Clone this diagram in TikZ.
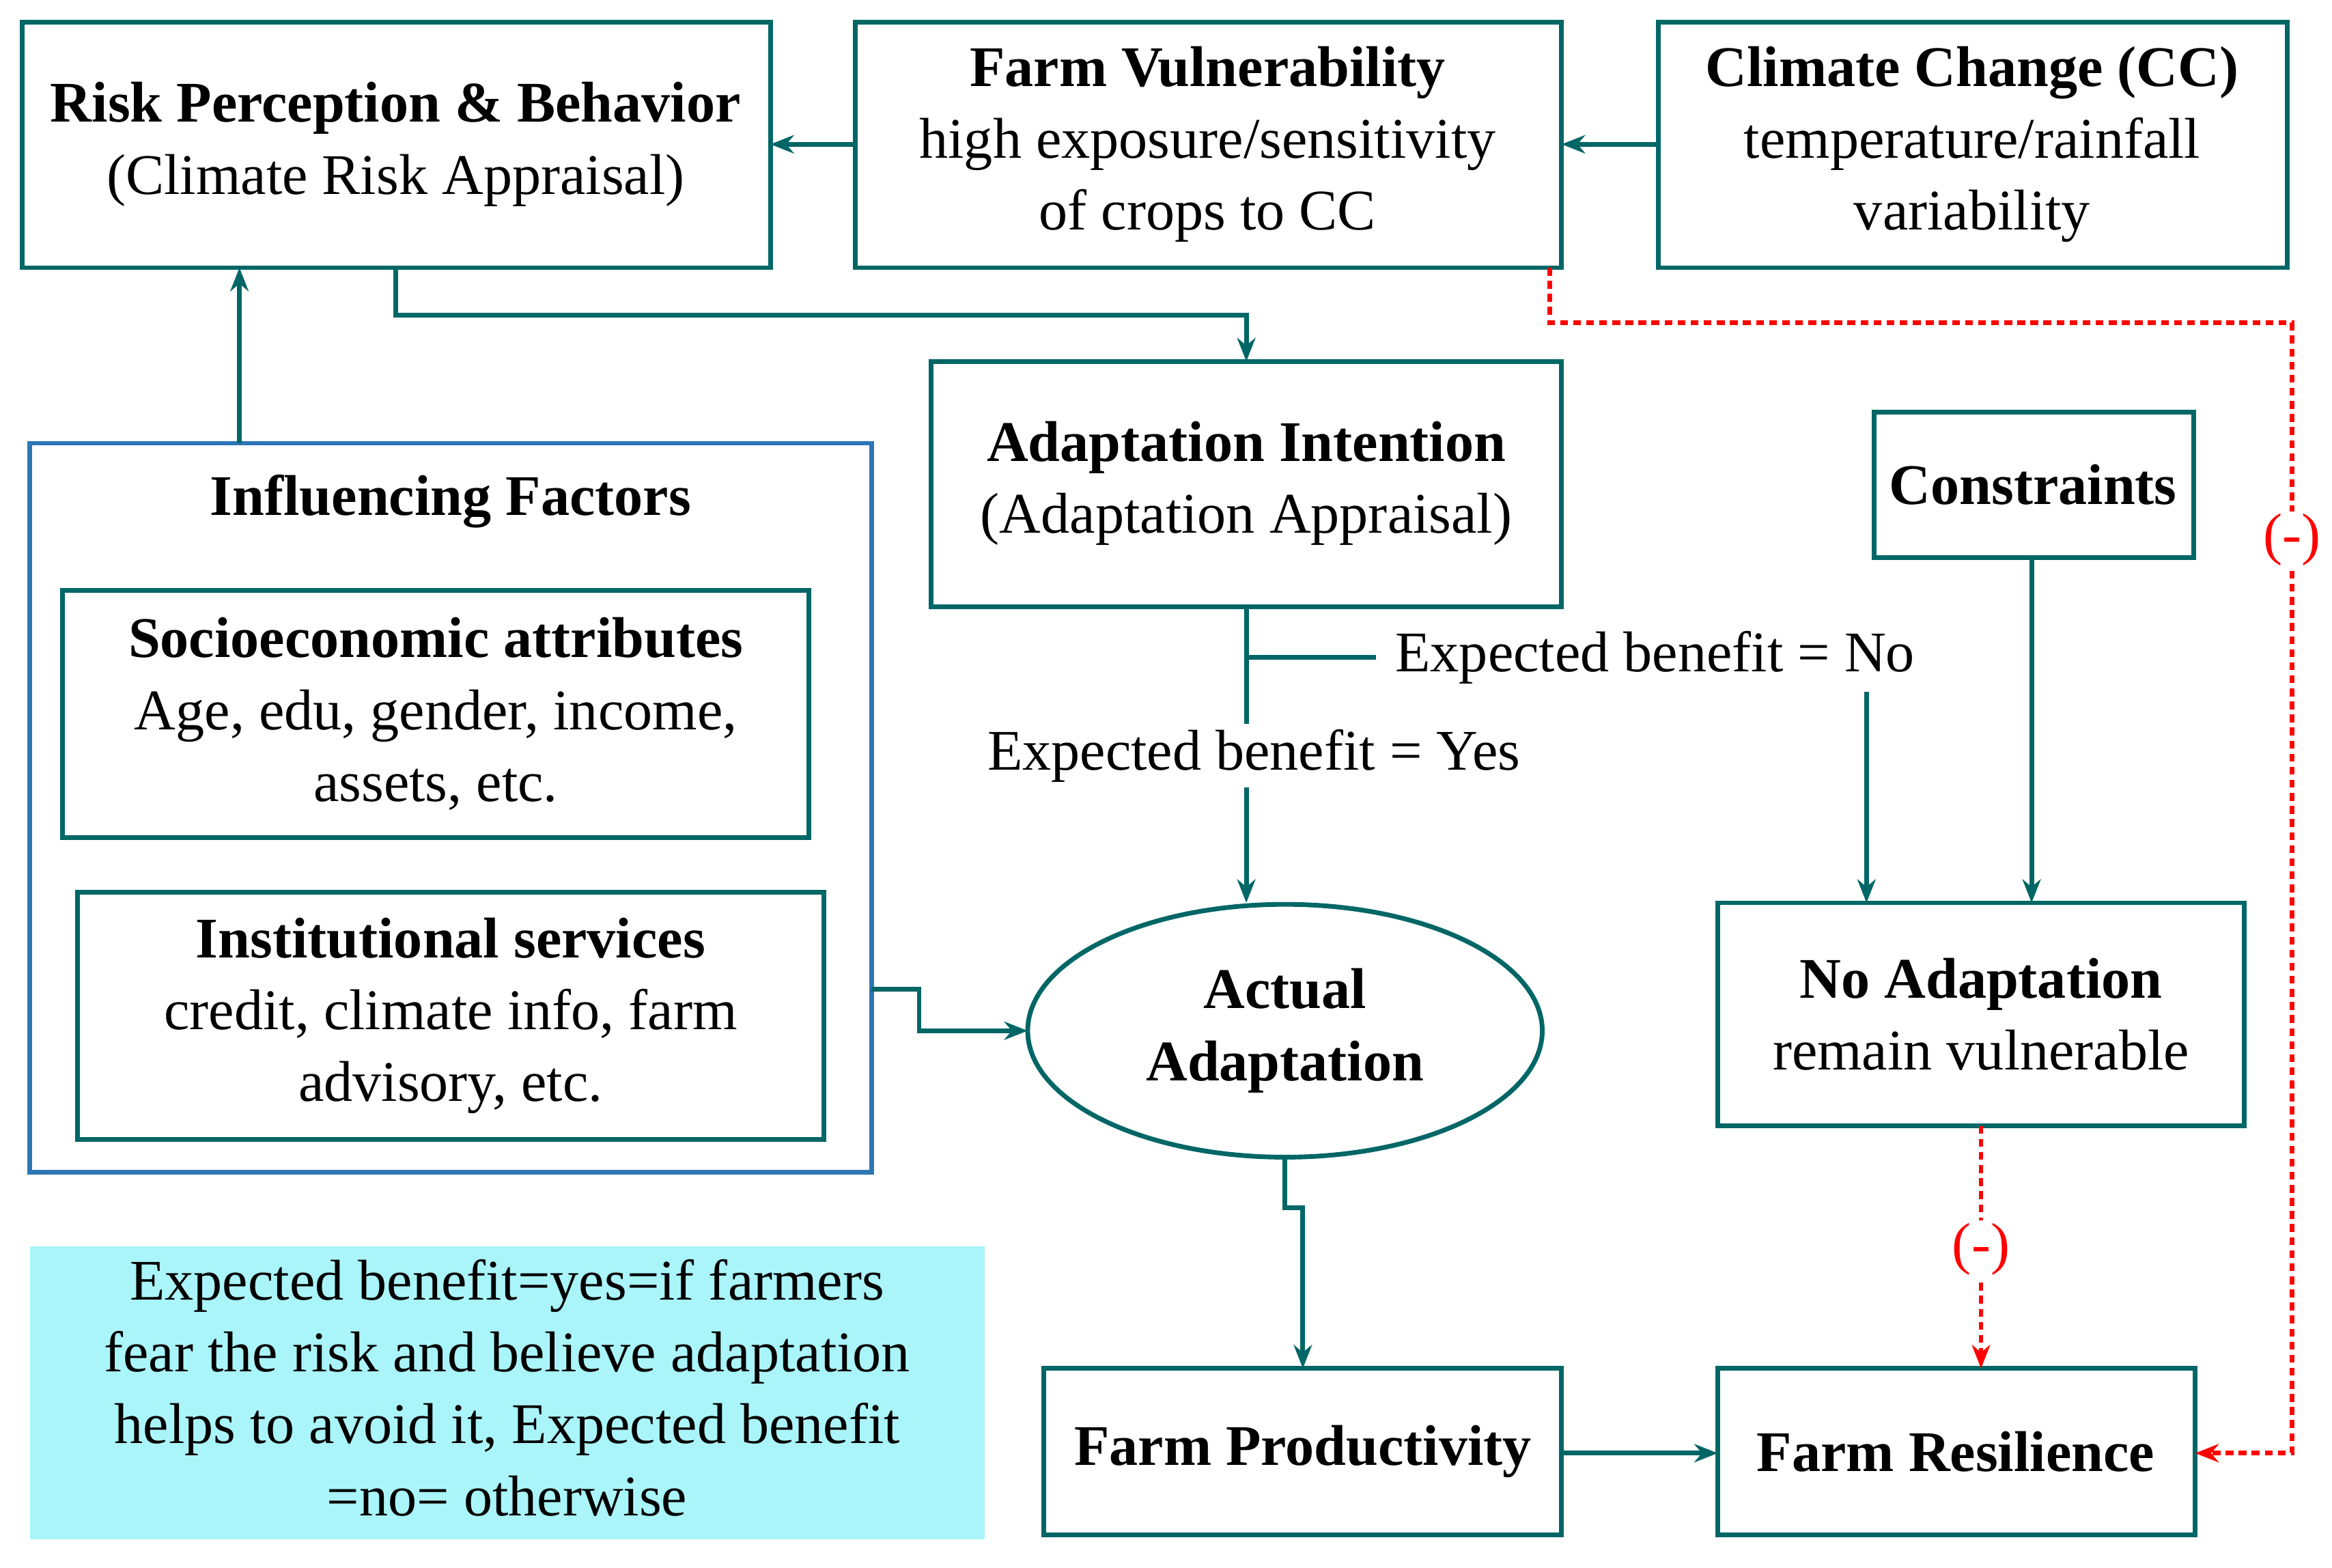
\documentclass[tikz,border=0pt]{standalone}
\usepackage{fontspec}
\setmainfont{Liberation Serif}
\usetikzlibrary{arrows.meta,shapes.geometric}
\definecolor{teal1}{RGB}{0,102,102}
\definecolor{blue1}{RGB}{46,117,182}
\definecolor{cyan1}{RGB}{170,245,250}
\begin{document}
\begin{tikzpicture}[x=0.02cm,y=-0.02cm,
  bx/.style={draw=teal1,line width=1.8pt},
  ar/.style={draw=teal1,line width=1.8pt,-{Stealth[length=9pt,width=7pt]}},
  rd/.style={draw=red,line width=1.8pt,densely dashed,-{Stealth[length=9pt,width=7pt]}},
  tx/.style={align=center,font=\fontsize{22}{27.5}\selectfont},
  lb/.style={font=\fontsize{22}{27.5}\selectfont}]
\useasboundingbox (0,0) rectangle (1568,1054);
% boxes
\draw[bx] (15,15) rectangle (518,180);
\node[tx] (risk) at (266,97) {\textbf{Risk Perception \& Behavior}\\(Climate Risk Appraisal)};
\draw[bx] (575,15) rectangle (1050,180);
\node[tx] (vuln) at (812,97) {\textbf{Farm Vulnerability}\\high exposure/sensitivity\\of crops to CC};
\draw[bx] (1115,15) rectangle (1538,180);
\node[tx] (cc) at (1326,97) {\textbf{Climate Change (CC)}\\temperature/rainfall\\variability};
\draw[bx] (626,243) rectangle (1050,408);
\node[tx] (ai) at (838,325) {\textbf{Adaptation Intention}\\(Adaptation Appraisal)};
\draw[bx] (1260,277) rectangle (1475,375);
\node[tx] (con) at (1367,326) {\textbf{Constraints}};
\draw[draw=blue1,line width=1.8pt] (20,298) rectangle (586,788);
\node[tx] (inf) at (303,337) {\textbf{Influencing Factors}};
\draw[bx] (42,397) rectangle (544,563);
\node[tx] (soc) at (293,480) {\textbf{Socioeconomic attributes}\\Age, edu, gender, income,\\assets, etc.};
\draw[bx] (52,600) rectangle (554,766);
\node[tx] (ins) at (303,683) {\textbf{Institutional services}\\credit, climate info, farm\\advisory, etc.};
\draw[bx] (864,693) ellipse [x radius=173,y radius=85];
\node[tx] (act) at (864,693) {\textbf{Actual}\\\textbf{Adaptation}};
\draw[bx] (1155,607) rectangle (1509,757);
\node[tx] (noa) at (1332,682) {\textbf{No Adaptation}\\remain vulnerable};
\draw[bx] (702,920) rectangle (1050,1032);
\node[tx] (fp) at (876,976) {\textbf{Farm Productivity}};
\draw[bx] (1155,920) rectangle (1476,1032);
\node[tx] (fr) at (1315,976) {\textbf{Farm Resilience}};
\fill[cyan1] (20,838) rectangle (662,1035);
\node[tx] (note) at (341,933) {Expected benefit=yes=if farmers\\fear the risk and believe adaptation\\helps to avoid it, Expected benefit\\=no= otherwise};
% coordinates
\coordinate (a1) at (575,97); \coordinate (a2) at (518,97);
\coordinate (b1) at (1115,97); \coordinate (b2) at (1050,97);
\coordinate (c1) at (161,298); \coordinate (c2) at (161,180);
\coordinate (d1) at (266,180); \coordinate (d2) at (838,243);
\coordinate (e1) at (838,408); \coordinate (e2) at (838,607);
\coordinate (f1) at (1255,465); \coordinate (f2) at (1255,607);
\coordinate (g1) at (1366,375); \coordinate (g2) at (1366,607);
\coordinate (h1) at (586,665); \coordinate (h2) at (691,693);
\coordinate (i1) at (864,778); \coordinate (i2) at (876,920);
\coordinate (j1) at (1050,977); \coordinate (j2) at (1155,977);
\coordinate (k1) at (1042,180); \coordinate (k2) at (1476,977);
\coordinate (l1) at (1332,757); \coordinate (l2) at (1332,920);
% arrows
\draw[ar] (a1) -- (a2);
\draw[ar] (b1) -- (b2);
\draw[ar] (c1) -- (c2);
\draw[ar] (d1) |- (838,212) -- (d2);
\draw[ar] (e1) -- (e2);
\draw[teal1,line width=1.8pt] (838,442) -- (925,442);
\node[lb,anchor=west] (nol) at (932,442) {Expected benefit = No};
\node[lb,fill=white,inner sep=2pt] (yesl) at (843,508) {Expected benefit = Yes};
\draw[ar] (f1) -- (f2);
\draw[ar] (g1) -- (g2);
\draw[ar] (h1) -- (618,665) -- (618,693) -- (h2);
\draw[ar] (i1) -- (864,812) -- (876,812) -- (i2);
\draw[ar] (j1) -- (j2);
\draw[rd] (k1) -- (1042,217) -- (1541,217) -- (1541,977) -- (k2);
\node[lb,text=red,fill=white,inner sep=1pt] (m1) at (1541,363) {(-)};
\draw[rd] (l1) -- (l2);
\node[lb,text=red,fill=white,inner sep=1pt] (m2) at (1332,840) {(-)};
\end{tikzpicture}
\end{document}
